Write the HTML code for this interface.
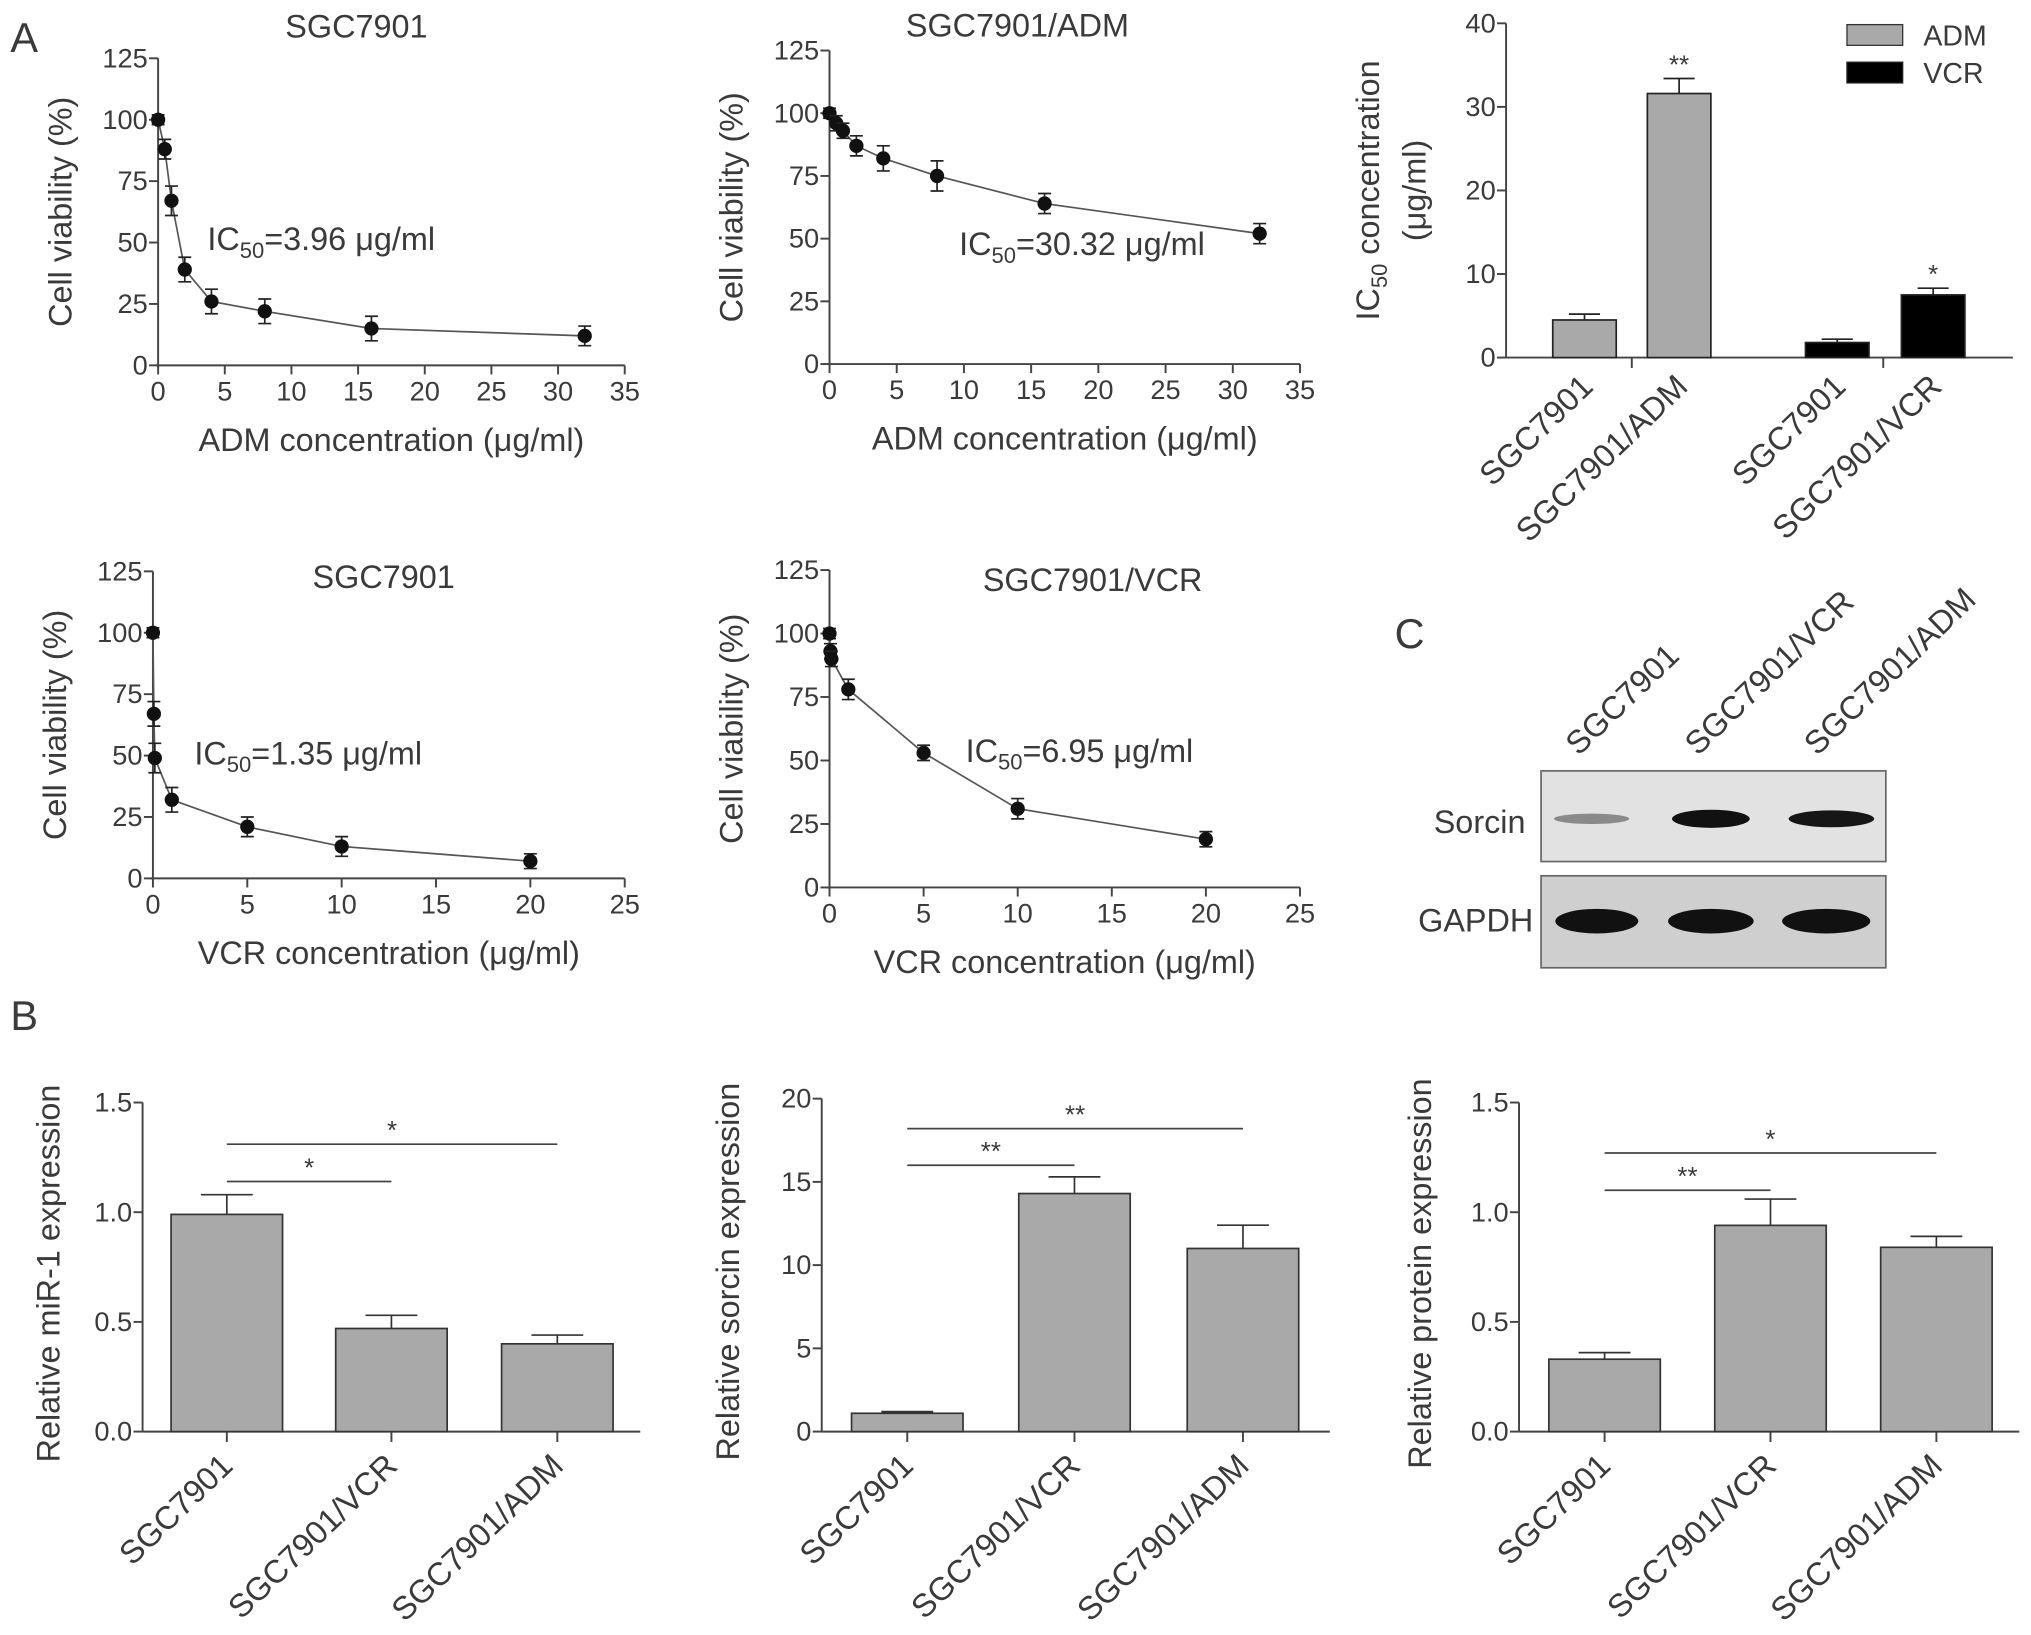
<!DOCTYPE html>
<html><head><meta charset="utf-8"><style>
html,body{margin:0;padding:0;background:#fff;}
svg{display:block;font-family:"Liberation Sans",sans-serif;}
text{fill:#3a3a3a;}
</style></head><body>
<svg id="fig" width="2031" height="1635" viewBox="0 0 1567 1262" preserveAspectRatio="none" xmlns="http://www.w3.org/2000/svg"></svg>
<script>
// ---- data ----
const a1X=[0,0.5,1,2,4,8,16,32];
const a1Y=[100,88,67,39,26,22,15,12];
const a1E=[2,4,6,5,5,5,5,4];
const a2X=[0,0.5,1,2,4,8,16,32];
const a2Y=[100,96,93,87,82,75,64,52];
const a2E=[2,3,3,4,5,6,4,4];
const a4X=[0,0.05,0.1,1,5,10,20];
const a4Y=[100,67,49,32,21,13,7];
const a4E=[2,5,6,5,4,4,3];
const a5X=[0,0.05,0.1,1,5,10,20];
const a5Y=[100,93,90,78,53,31,19];
const a5E=[2,3,3,4,3,4,3];
const icCats=["SGC7901","SGC7901/ADM","SGC7901","SGC7901/VCR"];
const icVals=[4.5,31.6,1.8,7.5];
const icErr=[0.7,1.8,0.4,0.8];
const icStars=["","**","","*"];
const bCats=["SGC7901","SGC7901/VCR","SGC7901/ADM"];
const b1Vals=[0.99,0.47,0.40];
const b1Err=[0.09,0.06,0.04];
const b2Vals=[1.1,14.3,11.0];
const b2Err=[0.1,1.0,1.4];
const b3Vals=[0.33,0.94,0.84];
const b3Err=[0.03,0.12,0.05];

const svg=document.getElementById('fig');
const NS="http://www.w3.org/2000/svg";
function mk(tag,attrs,name,parent){
  const el=document.createElementNS(NS,tag);
  for(const k in attrs) el.setAttribute(k,attrs[k]);
  
  
  (parent||svg).appendChild(el);return el;
}
function txt(x,y,s,size,name,anchor,extra){
  const t=mk('text',Object.assign({x:x,y:y,'font-size':size,'text-anchor':anchor||'middle'},extra||{}),name);
  t.textContent=s;return t;
}
const C='#444';

function lineChart(o){
  const sx=v=>o.x0+(v/o.xmax)*(o.x1-o.x0);
  const sy=v=>o.y0-(v/125)*(o.y0-o.y1);
  mk('line',{x1:o.x0,y1:o.y1,x2:o.x0,y2:o.y0+2,stroke:C,'stroke-width':1.5},o.id+'-y-axis');
  mk('line',{x1:o.x0-2,y1:o.y0,x2:o.x1,y2:o.y0,stroke:C,'stroke-width':1.5},o.id+'-x-axis');
  for(let v=0;v<=125;v+=25){
    mk('line',{x1:o.x0-7,y1:sy(v),x2:o.x0,y2:sy(v),stroke:C,'stroke-width':1.5},o.id+'-y-tick');
    txt(o.x0-8,sy(v)+7,String(v),21,o.id+'-y-tick-label','end');
  }
  for(let v=0;v<=o.xmax;v+=5){
    mk('line',{x1:sx(v),y1:o.y0,x2:sx(v),y2:o.y0+7,stroke:C,'stroke-width':1.5},o.id+'-x-tick');
    txt(sx(v),o.y0+27,String(v),21,o.id+'-x-tick-label');
  }
  txt((o.x0+o.x1)/2,o.y0+66,o.xlabel,25,o.id+'-x-axis-title');
  txt(0,0,'Cell viability (%)',25,o.id+'-y-axis-title','middle',{transform:`translate(${o.x0-67},${(o.y0+o.y1)/2}) rotate(-90)`});
  txt(o.tx,o.ty,o.title,25,o.id+'-title');
  const ic=txt(o.icx,o.icy,'IC',25,o.id+'-ic50-label','start');
  const s1=document.createElementNS(NS,'tspan');s1.setAttribute('font-size','17');s1.setAttribute('dy','6');s1.textContent='50';ic.appendChild(s1);
  const s2=document.createElementNS(NS,'tspan');s2.setAttribute('dy','-6');s2.textContent='='+o.ic;ic.appendChild(s2);
  let d='';
  o.X.forEach((x,i)=>{d+=(i?'L':'M')+sx(x)+','+sy(o.Y[i]);});
  mk('path',{d:d,fill:'none',stroke:'#555','stroke-width':1.3},o.id+'-curve');
  o.X.forEach((x,i)=>{
    const cx=sx(x),cy=sy(o.Y[i]),e=o.E[i]/125*(o.y0-o.y1);
    mk('path',{d:`M${cx},${cy-e}V${cy+e}M${cx-5},${cy-e}H${cx+5}M${cx-5},${cy+e}H${cx+5}`,stroke:'#222','stroke-width':1.3,fill:'none'},o.id+'-error-bar');
    mk('circle',{cx:cx,cy:cy,r:5.5,fill:'#111'},o.id+'-point');
  });
}
lineChart({id:'a1',x0:122,x1:482,xmax:35,y0:282,y1:45,X:a1X,Y:a1Y,E:a1E,xlabel:'ADM concentration (μg/ml)',title:'SGC7901',tx:275,ty:29,icx:160,icy:193,ic:'3.96 μg/ml'});
lineChart({id:'a2',x0:640,x1:1003,xmax:35,y0:281,y1:39,X:a2X,Y:a2Y,E:a2E,xlabel:'ADM concentration (μg/ml)',title:'SGC7901/ADM',tx:785,ty:28,icx:740,icy:197,ic:'30.32 μg/ml'});
lineChart({id:'a4',x0:118,x1:482,xmax:25,y0:678,y1:441,X:a4X,Y:a4Y,E:a4E,xlabel:'VCR concentration (μg/ml)',title:'SGC7901',tx:296,ty:454,icx:150,icy:590,ic:'1.35 μg/ml'});
lineChart({id:'a5',x0:640,x1:1003,xmax:25,y0:685,y1:440,X:a5X,Y:a5Y,E:a5E,xlabel:'VCR concentration (μg/ml)',title:'SGC7901/VCR',tx:843,ty:456,icx:745,icy:588,ic:'6.95 μg/ml'});

txt(8,40,'A',32,'panel-label-a','start');
txt(8,795,'B',32,'panel-label-b','start');
txt(1076,500,'C',32,'panel-label-c','start');

// IC50 bar chart
(function(){
  const x0=1162,y0=276,y1=18,ymax=40;
  const sy=v=>y0-v/ymax*(y0-y1);
  const bx=[1198,1271,1393,1467],bw=49;
  const fills=['#a9a9a9','#a9a9a9','#000','#000'];
  mk('line',{x1:x0,y1:y1,x2:x0,y2:y0,stroke:C,'stroke-width':1.5},'ic50-y-axis');
  mk('line',{x1:x0,y1:y0,x2:1553,y2:y0,stroke:C,'stroke-width':1.5},'ic50-x-axis');
  [1259,1453].forEach(x=>mk('line',{x1:x,y1:y0,x2:x,y2:y0+8,stroke:C,'stroke-width':1.5},'ic50-x-tick'));
  for(let v=0;v<=40;v+=10){
    mk('line',{x1:x0-7,y1:sy(v),x2:x0,y2:sy(v),stroke:C,'stroke-width':1.5},'ic50-y-tick');
    txt(x0-8,sy(v)+7,String(v),21,'ic50-y-tick-label','end');
  }
  icVals.forEach((v,i)=>{
    const cx=bx[i]+bw/2;
    mk('rect',{x:bx[i],y:sy(v),width:bw,height:y0-sy(v),fill:fills[i],stroke:'#222','stroke-width':1.3},'ic50-bar');
    const e=sy(v+icErr[i]);
    mk('path',{d:`M${cx},${sy(v)}V${e}M${cx-12},${e}H${cx+12}`,stroke:'#222','stroke-width':1.3,fill:'none'},'ic50-error-bar');
    if(icStars[i]) txt(cx,e-4,icStars[i],20,'ic50-significance');
    txt(0,0,icCats[i],25,'ic50-x-tick-label','end',{transform:`translate(${cx+8},${y0+24}) rotate(-44)`});
  });
  txt(0,0,'IC',25,'ic50-y-axis-title','middle',{transform:`translate(1064,147) rotate(-90)`}).innerHTML='IC<tspan font-size="17" dy="6">50</tspan><tspan dy="-6"> concentration</tspan>';
  txt(0,0,'(μg/ml)',25,'ic50-y-axis-unit','middle',{transform:`translate(1100,147) rotate(-90)`});
  mk('rect',{x:1425,y:19,width:43,height:16,fill:'#a9a9a9',stroke:'#333'},'legend-swatch-adm');
  txt(1484,35,'ADM',22,'legend-label-adm','start');
  mk('rect',{x:1425,y:48,width:43,height:16,fill:'#000',stroke:'#222'},'legend-swatch-vcr');
  txt(1484,64,'VCR',22,'legend-label-vcr','start');
})();

// Western blot
(function(){
  const lblX=[1218,1310,1402];
  const lbl=['SGC7901','SGC7901/VCR','SGC7901/ADM'];
  lbl.forEach((s,i)=>txt(0,0,s,25,'blot-lane-label','start',{transform:`translate(${lblX[i]},584) rotate(-44)`}));
  mk('rect',{x:1189,y:595,width:266,height:70,fill:'#e2e2e2',stroke:'#666','stroke-width':1.3},'blot-sorcin-panel');
  mk('rect',{x:1189,y:676,width:266,height:71,fill:'#cfcfcf',stroke:'#666','stroke-width':1.3},'blot-gapdh-panel');
  txt(1177,643,'Sorcin',25,'blot-sorcin-label','end');
  txt(1183,719,'GAPDH',25,'blot-gapdh-label','end');
  const sw=[[1228,29,4,'#8a8a8a'],[1320,30,7,'#111'],[1413,33,6.5,'#161616']];
  sw.forEach(b=>mk('ellipse',{cx:b[0],cy:632,rx:b[1],ry:b[2],fill:b[3]},'blot-sorcin-band'));
  [[1232,32],[1320,33],[1409,34]].forEach(b=>mk('ellipse',{cx:b[0],cy:711,rx:b[1],ry:9.5,fill:'#111'},'blot-gapdh-band'));
})();

function barChart(o){
  const sy=v=>o.y0-v/o.ymax*(o.y0-o.y1);
  mk('line',{x1:o.x0,y1:o.y1,x2:o.x0,y2:o.y0,stroke:C,'stroke-width':1.5},o.id+'-y-axis');
  mk('line',{x1:o.x0,y1:o.y0,x2:o.xe,y2:o.y0,stroke:C,'stroke-width':1.5},o.id+'-x-axis');
  o.ticks.forEach(v=>{
    mk('line',{x1:o.x0-7,y1:sy(v),x2:o.x0,y2:sy(v),stroke:C,'stroke-width':1.5},o.id+'-y-tick');
    txt(o.x0-8,sy(v)+7,o.fmt(v),21,o.id+'-y-tick-label','end');
  });
  txt(0,0,o.ylabel,25,o.id+'-y-axis-title','middle',{transform:`translate(${o.x0-o.yl},${(o.y0+o.y1)/2+5}) rotate(-90)`});
  const cxs=[];
  o.vals.forEach((v,i)=>{
    const bx=o.bx[i],cx=bx+o.bw/2;cxs.push(cx);
    mk('rect',{x:bx,y:sy(v),width:o.bw,height:o.y0-sy(v),fill:'#a9a9a9',stroke:'#333','stroke-width':1.3},o.id+'-bar');
    const e=sy(v+o.err[i]);
    mk('path',{d:`M${cx},${sy(v)}V${e}M${cx-20},${e}H${cx+20}`,stroke:'#333','stroke-width':1.3,fill:'none'},o.id+'-error-bar');
    mk('line',{x1:cx,y1:o.y0,x2:cx,y2:o.y0+8,stroke:C,'stroke-width':1.5},o.id+'-x-tick');
    txt(0,0,bCats[i],25,o.id+'-x-tick-label','end',{transform:`translate(${cx+6},${o.y0+28}) rotate(-44)`});
  });
  o.sig.forEach(s=>{
    const y=sy(s[2]);
    mk('line',{x1:cxs[0],y1:y,x2:cxs[s[0]],y2:y,stroke:'#444','stroke-width':1.3},o.id+'-significance-line');
    txt((cxs[0]+cxs[s[0]])/2,y-4,s[1],20,o.id+'-significance-stars');
  });
}
barChart({id:'b1',x0:110,xe:494,y0:1105,y1:851,ymax:1.5,ticks:[0,0.5,1,1.5],fmt:v=>v.toFixed(1),vals:b1Vals,err:b1Err,bx:[132,259,387],bw:86,ylabel:'Relative miR-1 expression',yl:64,sig:[[1,'*',1.14],[2,'*',1.31]]});
barChart({id:'b2',x0:634,xe:1026,y0:1105,y1:848,ymax:20,ticks:[0,5,10,15,20],fmt:v=>String(v),vals:b2Vals,err:b2Err,bx:[657,786,916],bw:86,ylabel:'Relative sorcin expression',yl:64,sig:[[1,'**',16.0],[2,'**',18.2]]});
barChart({id:'b3',x0:1172,xe:1558,y0:1105,y1:851,ymax:1.5,ticks:[0,0.5,1,1.5],fmt:v=>v.toFixed(1),vals:b3Vals,err:b3Err,bx:[1195,1323,1451],bw:86,ylabel:'Relative protein expression',yl:68,sig:[[1,'**',1.1],[2,'*',1.27]]});
</script>
</body></html>
